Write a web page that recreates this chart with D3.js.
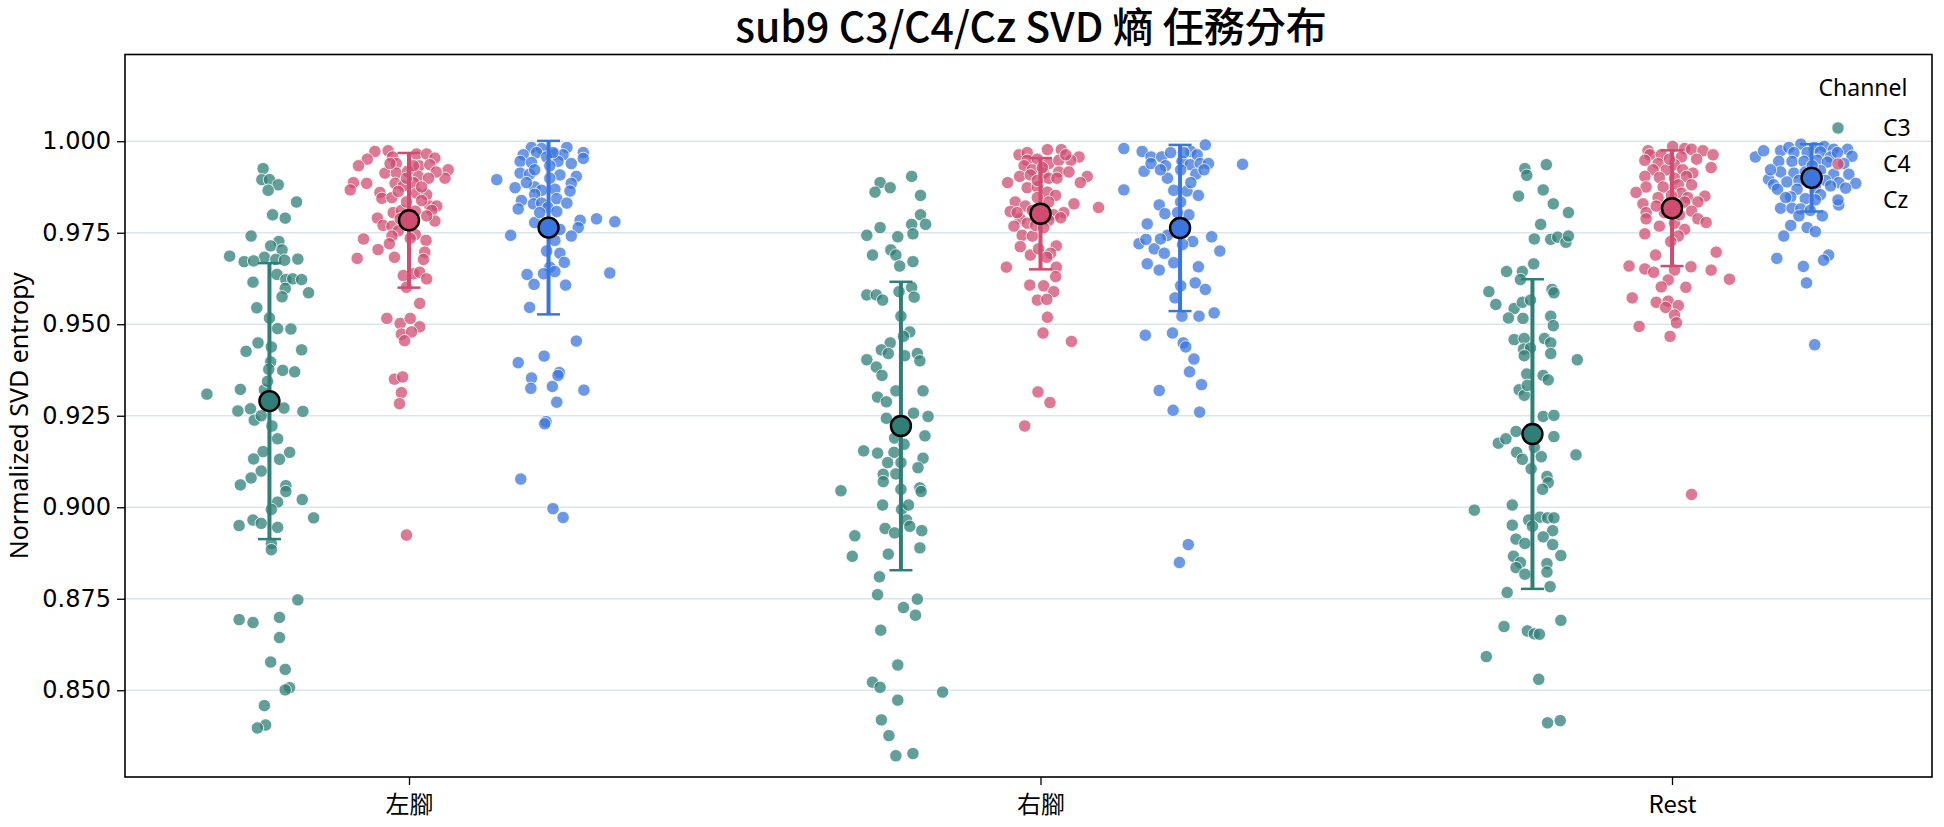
<!DOCTYPE html>
<html>
<head>
<meta charset="utf-8">
<script src="https://cdn.jsdelivr.net/npm/d3@7"></script>
<style>
  body { margin: 0; background: #fff; }
  text { font-family: "Noto Sans", "Noto Sans CJK TC", sans-serif; }
</style>
</head>
<body>
<svg id="chart" width="1944" height="827"></svg>
<script>
// categories / series
var categories = ["左腳", "右腳", "Rest"];
var channels = ["C3", "C4", "Cz"];
var yTicks = [0.850, 0.875, 0.900, 0.925, 0.950, 0.975, 1.000];

// mean and sd per category (rows) and channel (cols)
var means = [[0.9290, 0.9784, 0.9764], [0.9222, 0.9802, 0.9763], [0.9200, 0.9817, 0.9900]];
var sds = [[0.0377, 0.0184, 0.0237], [0.0394, 0.0152, 0.0227], [0.0423, 0.0158, 0.0092]];

// [value, jitter] pairs
var leftC3 = [[0.9925,-0.010],[0.9895,-0.012],[0.9895,0],[0.9881,0.014],[0.9866,-0.002],[0.9834,0.043],[0.9799,0.005],[0.9790,0.025],[0.9741,-0.029],[0.9726,0.015],
  [0.9714,0.002],[0.9703,0.020],[0.9686,-0.063],[0.9683,-0.008],[0.9671,-0.040],[0.9673,-0.025],[0.9677,0.010],[0.9675,0.024],[0.9678,0.045],[0.9636,0.012],
  [0.9622,0.026],[0.9624,0.037],[0.9622,0.051],[0.9615,-0.026],[0.9598,0.025],[0.9575,0.020],[0.9586,0.062],[0.9545,-0.020],[0.9517,0],[0.9488,0.013],
  [0.9487,0.034],[0.9449,-0.018],[0.9426,-0.037],[0.9438,0.003],[0.9430,0.051],[0.9397,0.002],[0.9374,0.021],[0.9370,0.040],[0.9377,-0.001],[0.9322,-0.046],
  [0.9309,-0.099],[0.9321,-0.008],[0.9344,-0.003],[0.9263,-0.050],[0.9269,-0.030],[0.9271,0.023],[0.9262,0.053],[0.9238,-0.024],[0.9250,-0.013],[0.9222,0.004],
  [0.9187,0.013],[0.9152,-0.010],[0.9150,0.032],[0.9132,-0.025],[0.9131,0.016],[0.9099,-0.013],[0.9080,-0.029],[0.9061,-0.046],[0.9059,0.026],[0.9043,0.026],
  [0.9021,0.052],[0.9014,0.013],[0.8994,0.003],[0.8971,0.070],[0.8950,-0.048],[0.8965,-0.026],[0.8956,-0.013],[0.8945,0.013],[0.8901,0.003],[0.8884,0.003],
  [0.8747,0.045],[0.8693,-0.048],[0.8685,-0.026],[0.8699,0.016],[0.8644,0.016],[0.8577,0.002],[0.8557,0.025],[0.8507,0.032],[0.8501,0.025],[0.8458,-0.008],
  [0.8405,-0.006],[0.8397,-0.019]];

var leftC4 = [[0.9972,-0.054],[0.9974,-0.033],[0.9951,-0.066],[0.9933,-0.080],[0.9957,-0.026],[0.9939,-0.020],[0.9965,0.012],[0.9965,0.028],[0.9954,0.041],[0.9933,0.016],
  [0.9936,0.033],[0.9922,0.062],[0.9899,0.057],[0.9916,0.043],[0.9913,-0.038],[0.9913,-0.020],[0.9918,-0.002],[0.9904,0.015],[0.9899,0.031],[0.9887,-0.088],
  [0.9867,-0.093],[0.9885,-0.067],[0.9885,-0.022],[0.9878,-0.009],[0.9887,0.007],[0.9860,-0.046],[0.9844,-0.043],[0.9846,-0.027],[0.9863,-0.017],[0.9858,0.012],
  [0.9854,0.028],[0.9823,0.033],[0.9823,0.044],[0.9811,0.036],[0.9838,0.020],[0.9790,-0.050],[0.9805,-0.025],[0.9770,-0.041],[0.9811,-0.012],[0.9782,0.041],
  [0.9796,0.028],[0.9768,-0.027],[0.9755,-0.017],[0.9741,-0.027],[0.9745,0.010],[0.9733,-0.072],[0.9704,-0.049],[0.9720,-0.031],[0.9680,-0.082],[0.9683,-0.023],
  [0.9729,0.027],[0.9697,0.025],[0.9677,0.023],[0.9633,-0.009],[0.9638,0.007],[0.9642,0.017],[0.9624,0.028],[0.9601,-0.004],[0.9557,0.017],[0.9516,-0.035],
  [0.9502,-0.014],[0.9516,0.002],[0.9493,0.017],[0.9473,-0.012],[0.9479,0.004],[0.9455,-0.007],[0.9350,-0.023],[0.9356,-0.010],[0.9313,-0.012],[0.9283,-0.015],
  [0.8924,-0.004],[0.9776,0.002],[0.9899,-0.004],[0.9933,0.007],[0.9939,-0.030],[0.9875,0.020],[0.9834,-0.004],[0.9788,-0.014],[0.9809,0.010],[0.9735,0.002]];

var leftCz = [[0.9983,-0.027],[0.9980,-0.011],[0.9983,0.029],[0.9963,-0.040],[0.9969,-0.019],[0.9965,0.010],[0.9963,0.023],[0.9969,0.055],[0.9953,0.055],[0.9945,-0.045],
  [0.9942,-0.027],[0.9957,-0.003],[0.9945,0.015],[0.9895,-0.082],[0.9913,-0.045],[0.9910,-0.030],[0.9908,0.018],[0.9904,0.044],[0.9885,0.036],[0.9873,-0.053],
  [0.9875,-0.022],[0.9866,-0.011],[0.9869,0.010],[0.9864,0.034],[0.9855,-0.022],[0.9838,-0.043],[0.9829,-0.024],[0.9831,-0.011],[0.9843,0.013],[0.9831,0.029],
  [0.9815,-0.048],[0.9819,-0.001],[0.9808,0.013],[0.9778,-0.022],[0.9784,0.050],[0.9788,0.076],[0.9780,0.105],[0.9764,0.047],[0.9743,-0.060],[0.9741,0.036],
  [0.9729,0.010],[0.9700,-0.003],[0.9694,0.018],[0.9669,0.025],[0.9656,0.002],[0.9638,-0.008],[0.9644,0.010],[0.9636,-0.034],[0.9609,-0.023],[0.9607,0.027],
  [0.9640,0.097],[0.9546,-0.030],[0.9454,0.044],[0.9395,-0.048],[0.9413,-0.007],[0.9368,0.017],[0.9360,0.015],[0.9353,-0.027],[0.9325,-0.028],[0.9330,0.006],
  [0.9320,0.056],[0.9287,0.013],[0.9234,-0.004],[0.9228,-0.006],[0.9077,-0.044],[0.8996,0.007],[0.8972,0.023],[0.9933,0.002],[0.9887,-0.035],[0.9899,0.002],
  [0.9759,0.018],[0.9805,-0.014],[0.9969,0.007],[0.9922,-0.022],[0.9939,0.036]];

var rightC3 = [[0.9904,0.017],[0.9887,-0.033],[0.9873,-0.017],[0.9861,-0.041],[0.9852,0.031],[0.9799,0.031],[0.9773,0.017],[0.9773,0.039],[0.9764,-0.033],[0.9743,-0.054],
  [0.9739,-0.005],[0.9747,0.019],[0.9689,-0.045],[0.9703,-0.016],[0.9689,-0.008],[0.9659,-0.002],[0.9671,0.019],[0.9580,-0.054],[0.9580,-0.039],[0.9566,-0.029],
  [0.9589,-0.003],[0.9601,0.017],[0.9574,0.021],[0.9522,0],[0.9479,0.014],[0.9467,0.004],[0.9449,-0.017],[0.9430,-0.031],[0.9420,-0.020],[0.9414,0.006],
  [0.9420,0.026],[0.9400,0.030],[0.9403,-0.054],[0.9383,-0.039],[0.9360,-0.030],[0.9318,-0.008],[0.9318,0.035],[0.9301,-0.037],[0.9288,-0.023],[0.9243,-0.023],
  [0.9257,0.020],[0.9248,0.043],[0.9195,0.038],[0.9189,-0.010],[0.9154,-0.059],[0.9148,-0.037],[0.9150,-0.011],[0.9172,0.005],[0.9134,0.035],[0.9122,-0.021],
  [0.9122,0],[0.9108,0.027],[0.9090,-0.028],[0.9070,-0.028],[0.9091,-0.008],[0.9049,0],[0.9053,0.030],[0.9043,0.032],[0.9045,-0.095],[0.9006,-0.029],
  [0.8994,0.001],[0.9006,0.012],[0.8965,0.009],[0.8948,0.014],[0.8942,-0.025],[0.8930,-0.010],[0.8936,0.033],[0.8922,-0.073],[0.8866,-0.077],[0.8872,-0.020],
  [0.8889,0.030],[0.8810,-0.034],[0.8761,-0.037],[0.8726,0.004],[0.8749,0.026],[0.8705,0.023],[0.8664,-0.032],[0.8569,-0.005],[0.8522,-0.045],[0.8508,-0.033],
  [0.8473,-0.005],[0.8495,0.066],[0.8419,-0.031],[0.8376,-0.019],[0.8321,-0.008],[0.8327,0.019]];

var rightC4 = [[0.9963,-0.034],[0.9969,-0.021],[0.9977,0.011],[0.9977,0.033],[0.9957,0.061],[0.9948,0.048],[0.9948,-0.021],[0.9951,-0.005],[0.9939,0.013],[0.9948,0.029],
  [0.9933,-0.026],[0.9922,-0.013],[0.9913,0.005],[0.9916,0.029],[0.9916,0.045],[0.9904,0.074],[0.9887,0.063],[0.9887,-0.052],[0.9904,-0.033],[0.9908,-0.016],
  [0.9899,0.013],[0.9899,0.026],[0.9873,-0.021],[0.9875,-0.005],[0.9861,0.011],[0.9852,0.024],[0.9834,-0.040],[0.9823,-0.024],[0.9846,-0.005],[0.9829,0.053],
  [0.9819,0.092],[0.9805,0.037],[0.9808,-0.048],[0.9788,-0.032],[0.9799,0.021],[0.9791,0.032],[0.9784,0.013],[0.9768,-0.042],[0.9776,-0.021],[0.9743,-0.029],
  [0.9741,-0.013],[0.9712,-0.032],[0.9714,0.025],[0.9694,0.016],[0.9689,-0.016],[0.9706,-0.003],[0.9683,0.010],[0.9656,-0.054],[0.9656,0.025],[0.9630,0.024],
  [0.9607,-0.017],[0.9605,0.005],[0.9589,0.021],[0.9566,-0.005],[0.9568,0.010],[0.9519,0.011],[0.9476,0.004],[0.9453,0.049],[0.9315,-0.004],[0.9286,0.015],
  [0.9222,-0.025],[0.9805,0],[0.9770,-0.008],[0.9764,0.005],[0.9811,-0.013],[0.9963,0.040],[0.9928,0.003],[0.9805,-0.037],[0.9834,0.013],[0.9893,-0.005]];

var rightCz = [[0.9980,-0.089],[0.9972,-0.060],[0.9957,-0.046],[0.9957,-0.029],[0.9969,-0.015],[0.9972,0.017],[0.9990,0.040],[0.9963,0.027],[0.9937,0.099],[0.9918,-0.057],
  [0.9939,-0.046],[0.9933,-0.023],[0.9945,0.003],[0.9936,0.016],[0.9939,0.032],[0.9939,0.045],[0.9899,-0.020],[0.9910,0.025],[0.9922,0.001],[0.9867,-0.089],
  [0.9866,-0.010],[0.9864,0.011],[0.9852,0.029],[0.9834,0.001],[0.9826,-0.033],[0.9802,-0.024],[0.9799,0.014],[0.9774,-0.052],[0.9743,-0.020],[0.9726,0.020],
  [0.9739,0.050],[0.9700,0.063],[0.9720,-0.065],[0.9732,-0.054],[0.9706,-0.041],[0.9694,-0.025],[0.9668,-0.010],[0.9718,0.004],[0.9665,-0.052],[0.9648,-0.033],
  [0.9657,0.029],[0.9605,0.001],[0.9613,0.024],[0.9595,0.040],[0.9572,-0.008],[0.9522,0.003],[0.9522,0.030],[0.9531,0.054],[0.9470,-0.055],[0.9476,-0.012],
  [0.9449,0.005],[0.9438,0.009],[0.9405,0.022],[0.9370,0.015],[0.9335,0.034],[0.9319,-0.033],[0.9265,-0.011],[0.9260,0.031],[0.8898,0.013],[0.8849,-0.001],
  [0.9969,0.006],[0.9922,-0.031],[0.9805,-0.004],[0.9922,0.038],[0.9887,0.017],[0.9733,-0.031],[0.9770,0.001]];

var restC3 = [[0.9925,-0.012],[0.9936,0.022],[0.9907,-0.009],[0.9867,0.017],[0.9850,-0.022],[0.9829,0.033],[0.9805,0.057],[0.9773,0.013],[0.9733,0.003],[0.9732,0.029],
  [0.9738,0.040],[0.9724,0.053],[0.9741,0.057],[0.9665,0.002],[0.9644,-0.041],[0.9644,-0.016],[0.9622,-0.019],[0.9595,0.031],[0.9586,0.034],[0.9589,-0.069],
  [0.9554,-0.058],[0.9543,-0.029],[0.9560,-0.016],[0.9566,-0.003],[0.9517,-0.038],[0.9516,-0.015],[0.9522,0.029],[0.9496,0.033],[0.9458,-0.029],[0.9461,-0.013],
  [0.9461,0.019],[0.9449,0.029],[0.9432,-0.014],[0.9435,-0.003],[0.9414,-0.013],[0.9420,0.029],[0.9403,0.071],[0.9364,-0.009],[0.9360,0.017],[0.9348,0.025],
  [0.9321,-0.021],[0.9306,-0.013],[0.9333,-0.008],[0.9248,0.017],[0.9251,0.034],[0.9207,-0.026],[0.9175,-0.054],[0.9187,-0.042],[0.9193,0.034],[0.9150,-0.025],
  [0.9131,-0.016],[0.9164,0.003],[0.9138,0.014],[0.9105,-0.002],[0.9143,0.069],[0.9084,0.023],[0.9067,0.025],[0.9049,0.016],[0.8992,-0.092],[0.9006,-0.032],
  [0.8965,-0.006],[0.8973,0.012],[0.8971,0.024],[0.8971,0.034],[0.8951,-0.032],[0.8948,0],[0.8936,0.032],[0.8919,0.017],[0.8913,-0.026],[0.8901,-0.012],
  [0.8898,0.032],[0.8868,0.045],[0.8866,-0.030],[0.8849,-0.019],[0.8835,-0.026],[0.8817,-0.012],[0.8846,0.023],[0.8823,0.023],[0.8783,0.028],[0.8767,-0.040],
  [0.8674,-0.045],[0.8662,-0.008],[0.8654,0.003],[0.8653,0.011],[0.8691,0.045],[0.8592,-0.073],[0.8530,0.010],[0.8411,0.024],[0.8417,0.044]];

var restC4 = [[0.9974,-0.038],[0.9986,0.001],[0.9980,0.020],[0.9978,0.031],[0.9974,0.049],[0.9963,0.065],[0.9963,-0.035],[0.9963,-0.017],[0.9957,0.015],[0.9951,0.039],
  [0.9928,0.062],[0.9948,-0.043],[0.9939,-0.022],[0.9936,0.004],[0.9922,-0.030],[0.9922,-0.009],[0.9922,0.017],[0.9913,0.033],[0.9904,-0.043],[0.9901,-0.020],
  [0.9899,0.004],[0.9904,0.023],[0.9875,-0.041],[0.9875,-0.014],[0.9881,0.010],[0.9881,0.031],[0.9860,-0.057],[0.9858,0.015],[0.9850,0.052],[0.9846,-0.022],
  [0.9846,0.025],[0.9834,0.041],[0.9829,-0.046],[0.9834,0.020],[0.9805,-0.041],[0.9788,-0.041],[0.9809,0.031],[0.9788,0.041],[0.9778,0.054],[0.9768,-0.020],
  [0.9776,0.004],[0.9759,0.020],[0.9747,-0.043],[0.9741,0.010],[0.9726,-0.002],[0.9697,0.070],[0.9689,-0.026],[0.9659,-0.068],[0.9651,-0.043],[0.9642,-0.029],
  [0.9648,0.004],[0.9657,0.030],[0.9648,0.062],[0.9623,0.091],[0.9621,-0.006],[0.9602,-0.017],[0.9601,0.022],[0.9572,-0.063],[0.9560,-0.025],[0.9563,-0.006],
  [0.9551,0.010],[0.9546,-0.010],[0.9525,0.004],[0.9504,0.007],[0.9494,-0.052],[0.9467,-0.003],[0.9035,0.031],[0.9852,-0.001],[0.9805,-0.012],[0.9799,0.012],
  [0.9951,-0.004],[0.9823,-0.025]];

var restCz = [[0.9957,-0.089],[0.9974,-0.076],[0.9974,-0.049],[0.9983,-0.036],[0.9992,-0.017],[0.9983,0.004],[0.9986,0.020],[0.9978,0.035],[0.9978,0.057],[0.9959,0.064],
  [0.9969,-0.028],[0.9969,-0.007],[0.9971,0.014],[0.9957,0.030],[0.9945,-0.052],[0.9945,-0.031],[0.9945,-0.012],[0.9948,0.009],[0.9943,0.025],[0.9939,0.051],
  [0.9916,-0.049],[0.9913,-0.028],[0.9916,-0.010],[0.9920,0.014],[0.9910,0.035],[0.9910,0.059],[0.9896,-0.068],[0.9881,-0.060],[0.9889,-0.039],[0.9893,-0.020],
  [0.9893,0.022],[0.9887,0.043],[0.9885,0.070],[0.9869,-0.054],[0.9869,-0.023],[0.9873,0.006],[0.9878,0.030],[0.9872,0.054],[0.9848,-0.033],[0.9843,-0.010],
  [0.9854,0.014],[0.9817,-0.049],[0.9817,-0.031],[0.9840,0.006],[0.9826,0.043],[0.9815,-0.017],[0.9811,-0.002],[0.9796,-0.020],[0.9796,0.017],[0.9770,-0.033],
  [0.9764,-0.007],[0.9753,0.006],[0.9741,-0.044],[0.9680,-0.055],[0.9689,0.027],[0.9675,0.019],[0.9658,-0.013],[0.9613,-0.008],[0.9444,0.005],[0.9933,0.001],
  [0.9846,-0.041],[0.9969,0.041],[0.9899,0.009],[0.9922,-0.065]];

// one row per category/channel
var groups = [
  {cat:0, ch:0, pts:leftC3}, {cat:0, ch:1, pts:leftC4}, {cat:0, ch:2, pts:leftCz},
  {cat:1, ch:0, pts:rightC3}, {cat:1, ch:1, pts:rightC4}, {cat:1, ch:2, pts:rightCz},
  {cat:2, ch:0, pts:restC3}, {cat:2, ch:1, pts:restC4}, {cat:2, ch:2, pts:restCz}
];

var colors = {C3:"#2f7f77", C4:"#d04c70", Cz:"#3b76dc"};
var dodge = [-0.221, 0, 0.221];

//measurements
var W = 1944, H = 827;
var plot = {left:125, right:1932, top:54.5, bottom:777};

var svg = d3.select("#chart");
svg.append("rect").attr("width", W).attr("height", H).attr("fill", "#fff");

//scales
var x = d3.scaleLinear().domain([-0.4497, 2.4117]).range([plot.left, plot.right]);
var y = d3.scaleLinear().domain([0.8263, 1.0237]).range([plot.bottom, plot.top]);

//grid
svg.append("g").selectAll("line")
  .data(yTicks).enter().append("line")
  .attr("x1", plot.left).attr("x2", plot.right)
  .attr("y1", function(d){return y(d)}).attr("y2", function(d){return y(d)})
  .attr("stroke", "#dbe5ee").attr("stroke-width", 1.5);

//axes
var yAxis = svg.append("g")
  .attr("transform", "translate(" + plot.left + ",0)")
  .call(d3.axisLeft(y).tickValues(yTicks).tickFormat(d3.format(".3f")).tickSize(8).tickPadding(6));
yAxis.select(".domain").remove();
yAxis.selectAll("line").attr("stroke", "#000").attr("stroke-width", 1.3);
yAxis.selectAll("text").attr("font-size", 24).attr("fill", "#000")
  .style("font-family", "'DejaVu Sans', sans-serif");

var xAxis = svg.append("g")
  .attr("transform", "translate(0," + plot.bottom + ")")
  .call(d3.axisBottom(x).tickValues([0, 1, 2]).tickFormat(function(i){return categories[i]}).tickSize(8).tickPadding(11));
xAxis.select(".domain").remove();
xAxis.selectAll("line").attr("stroke", "#000").attr("stroke-width", 1.3);
xAxis.selectAll("text").attr("font-size", 24).attr("fill", "#000")
  .style("font-family", "'Noto Sans CJK TC', 'Noto Sans', sans-serif");

//points
groups.forEach(function(g){
  var name = channels[g.ch];
  svg.append("g").selectAll("circle")
    .data(g.pts).enter().append("circle")
    .attr("cx", function(d){return x(g.cat + dodge[g.ch] + d[1])})
    .attr("cy", function(d){return y(d[0])})
    .attr("r", 6.2)
    .attr("fill", colors[name]).attr("fill-opacity", 0.75)
    .attr("stroke", "#fff").attr("stroke-width", 0.8);
});

//mean +- sd
groups.forEach(function(g){
  var name = channels[g.ch];
  var m = means[g.cat][g.ch], sd = sds[g.cat][g.ch];
  var cx = x(g.cat + dodge[g.ch]);
  var eg = svg.append("g").attr("stroke", colors[name]);
  eg.append("line").attr("x1", cx).attr("x2", cx)
    .attr("y1", y(m - sd)).attr("y2", y(m + sd)).attr("stroke-width", 4);
  [m - sd, m + sd].forEach(function(v){
    eg.append("line").attr("x1", cx - 11.5).attr("x2", cx + 11.5)
      .attr("y1", y(v)).attr("y2", y(v)).attr("stroke-width", 2.5);
  });
  svg.append("circle").attr("cx", cx).attr("cy", y(m)).attr("r", 10)
    .attr("fill", colors[name]).attr("stroke", "#000").attr("stroke-width", 2.4);
});

//frame
svg.append("rect")
  .attr("x", plot.left).attr("y", plot.top)
  .attr("width", plot.right - plot.left).attr("height", plot.bottom - plot.top)
  .attr("fill", "none").attr("stroke", "#000").attr("stroke-width", 1.6);

//labels
svg.append("text")
  .attr("x", 1031).attr("y", 42)
  .attr("text-anchor", "middle").attr("font-size", 41).attr("font-weight", 500)
  .style("font-family", "'Noto Sans CJK TC', sans-serif")
  .text("sub9 C3/C4/Cz SVD 熵 任務分布");

svg.append("text")
  .attr("transform", "translate(28," + ((plot.top + plot.bottom) / 2) + ") rotate(-90)")
  .attr("text-anchor", "middle").attr("font-size", 25)
  .text("Normalized SVD entropy");

//legend
var legend = svg.append("g");
legend.append("text").attr("x", 1863).attr("y", 96)
  .attr("text-anchor", "middle").attr("font-size", 23).text("Channel");
channels.forEach(function(c, i){
  var ly = 128 + i * 36;
  legend.append("circle").attr("cx", 1838).attr("cy", ly).attr("r", 6.2)
    .attr("fill", colors[c]).attr("fill-opacity", 0.75)
    .attr("stroke", "#fff").attr("stroke-width", 0.8);
  legend.append("text").attr("x", 1883).attr("y", ly + 8)
    .attr("font-size", 23).text(c);
});
</script>
</body>
</html>
